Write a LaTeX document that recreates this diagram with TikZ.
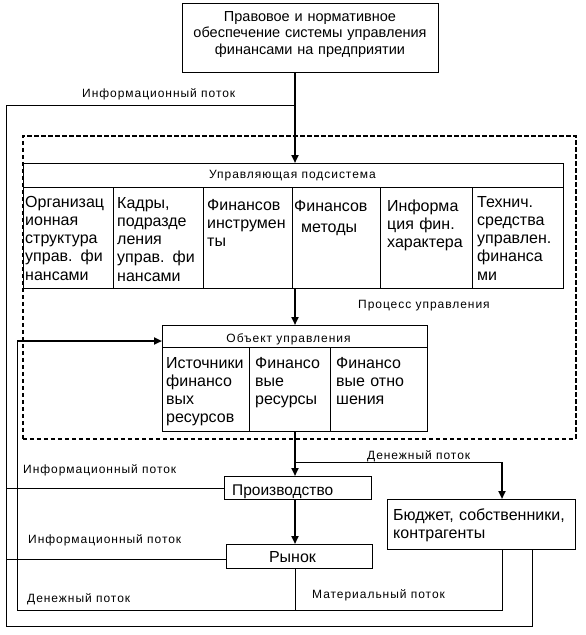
\documentclass[tikz,border=0pt]{standalone}
\usepackage{fontspec}
\setmainfont{Liberation Sans}
\usetikzlibrary{arrows.meta}
\newcommand\cellfnt{\fontsize{16}{18.3}\selectfont}
\newcommand\topfnt{\fontsize{14.5}{16.5}\selectfont}
\newcommand\lblfnt{\fontsize{12}{14}\selectfont\addfontfeature{LetterSpace=8}}
\newcommand\boxfnt{\fontsize{16}{18}\selectfont}
\tikzset{
  box/.style={draw, line width=1pt, inner sep=0pt, anchor=north west},
  thinln/.style={line width=0.9pt},
  flow/.style={line width=2.2pt, -{Triangle[length=8pt,width=7pt]}},
  lbl/.style={font=\lblfnt, inner sep=0pt, anchor=base west},
  lblc/.style={font=\lblfnt, inner sep=0pt, anchor=base},
  celltxt/.style={font=\cellfnt, inner sep=0pt, anchor=base west, align=left, text width=86pt},
}
\begin{document}
\begin{tikzpicture}[x=1pt,y=-1pt]
\useasboundingbox (0,0) rectangle (586,635);
% top box
\node[box, minimum width=256pt, minimum height=69pt] (top) at (182,3) {};
\node[font=\topfnt, inner sep=0pt, anchor=base, align=center, text width=250pt] (toptxt) at (310,21)
  {Правовое и нормативное\\обеспечение системы управления\\финансами на предприятии};
% dashed frame
\node[draw, line width=1.8pt, dash pattern=on 4.5pt off 2.5pt, inner sep=0pt, anchor=north west,
  minimum width=553pt, minimum height=303pt] (frame) at (22,135) {};
% control subsystem
\node[box, minimum width=540pt, minimum height=24pt] (hdr) at (23,163) {};
\node[lblc] (hdrtxt) at (292.5,178) {Управляющая подсистема};
\node[box, minimum width=90pt, minimum height=101pt] (c1) at (23,187) {};
\node[box, minimum width=90pt, minimum height=101pt] (c2) at (113,187) {};
\node[box, minimum width=89pt, minimum height=101pt] (c3) at (203,187) {};
\node[box, minimum width=88pt, minimum height=101pt] (c4) at (292,187) {};
\node[box, minimum width=92pt, minimum height=101pt] (c5) at (380,187) {};
\node[box, minimum width=91pt, minimum height=101pt] (c6) at (472,187) {};
\node[celltxt] (t1) at (25,207) {Организац\\ионная\\структура\\управ. фи\\нансами};
\node[celltxt] (t2) at (117,208) {Кадры,\\подразде\\ления\\управ. фи\\нансами};
\node[celltxt] (t3) at (207,210) {Финансов\\инструмен\\ты};
\node[celltxt] (t4) at (294,211) {Финансов\\[3pt]\hspace*{7pt}методы};
\node[celltxt] (t5) at (387,211) {Информа\\ция фин.\\характера};
\node[celltxt] (t6) at (477,207) {Технич.\\средства\\управлен.\\финанса\\ми};
\node[lbl] (proc) at (358,308) {Процесс управления};
% object
\node[box, minimum width=265pt, minimum height=22pt] (oh) at (162,325) {};
\node[lblc] (ohtxt) at (288.5,342) {Объект управления};
\node[box, minimum width=87pt, minimum height=84pt] (o1) at (162,347) {};
\node[box, minimum width=81pt, minimum height=84pt] (o2) at (249,347) {};
\node[box, minimum width=97pt, minimum height=84pt] (o3) at (330,347) {};
\node[celltxt] (s1) at (166,368) {Источники\\финансо\\вых\\ресурсов};
\node[celltxt] (s2) at (255,368) {Финансо\\вые\\ресурсы};
\node[celltxt] (s3) at (336,368) {Финансо\\вые отно\\шения};
% production, market, budget
\node[box, minimum width=147pt, minimum height=23pt] (prod) at (224,476) {};
\node[font=\fontsize{15.5}{18}\selectfont, inner sep=0pt, anchor=base west] (prodtxt) at (232,495) {Производство};
\node[box, minimum width=146pt, minimum height=24pt] (ryn) at (226,544) {};
\node[font=\boxfnt, inner sep=0pt, anchor=base] (ryntxt) at (292.5,562) {Рынок};
\node[box, minimum width=188pt, minimum height=50pt] (bud) at (387,499) {};
\node[font=\boxfnt, inner sep=0pt, anchor=base west, align=left, text width=180pt] (budtxt) at (393,520)
  {Бюджет, собственники,\\контрагенты};
% labels
\node[lbl] (li1) at (82,97) {Информационный поток};
\node[lbl] (li2) at (23,473) {Информационный поток};
\node[lbl] (li3) at (28,543) {Информационный поток};
\node[lbl] (ld1) at (27,602) {Денежный поток};
\node[lbl] (ld2) at (367,459) {Денежный поток};
\node[lbl] (lm) at (312,598) {Материальный поток};
% coordinates
\coordinate (ax) at (295,0);
\coordinate (i1) at (295,105);
\coordinate (i2) at (6,105);
\coordinate (i3) at (6,626);
\coordinate (i4) at (532,626);
\coordinate (m1) at (295,462);
\coordinate (m2) at (502,462);
\coordinate (n1) at (502,610);
\coordinate (n2) at (17,610);
\coordinate (n3) at (17,341);
\coordinate (r1) at (6,488);
\coordinate (r2) at (6,559);
% connectors
\draw[flow] (ax |- top.south) -- (ax |- hdr.north);
\draw[thinln] (i1) -- (i2) -- (i3) -- (i4) -- (i4 |- bud.south);
\draw[flow] (ax |- c4.south) -- (ax |- oh.north);
\draw[flow] (ax |- o1.south) -- (ax |- prod.north);
\draw[flow] (ax |- prod.south) -- (ax |- ryn.north);
\draw[thinln] (m1) -- (m2);
\draw[flow] (m2) -- (m2 |- bud.north);
\draw[thinln] (n1 |- bud.south) -- (n1) -- (n2) -- (n3);
\draw[flow] (n3) -- (n3 -| oh.west);
\draw[thinln] (ax |- ryn.south) -- (ax |- n1);
\draw[thinln] (r1) -- (r1 -| prod.west);
\draw[thinln] (r2) -- (r2 -| ryn.west);
\end{tikzpicture}
\end{document}
